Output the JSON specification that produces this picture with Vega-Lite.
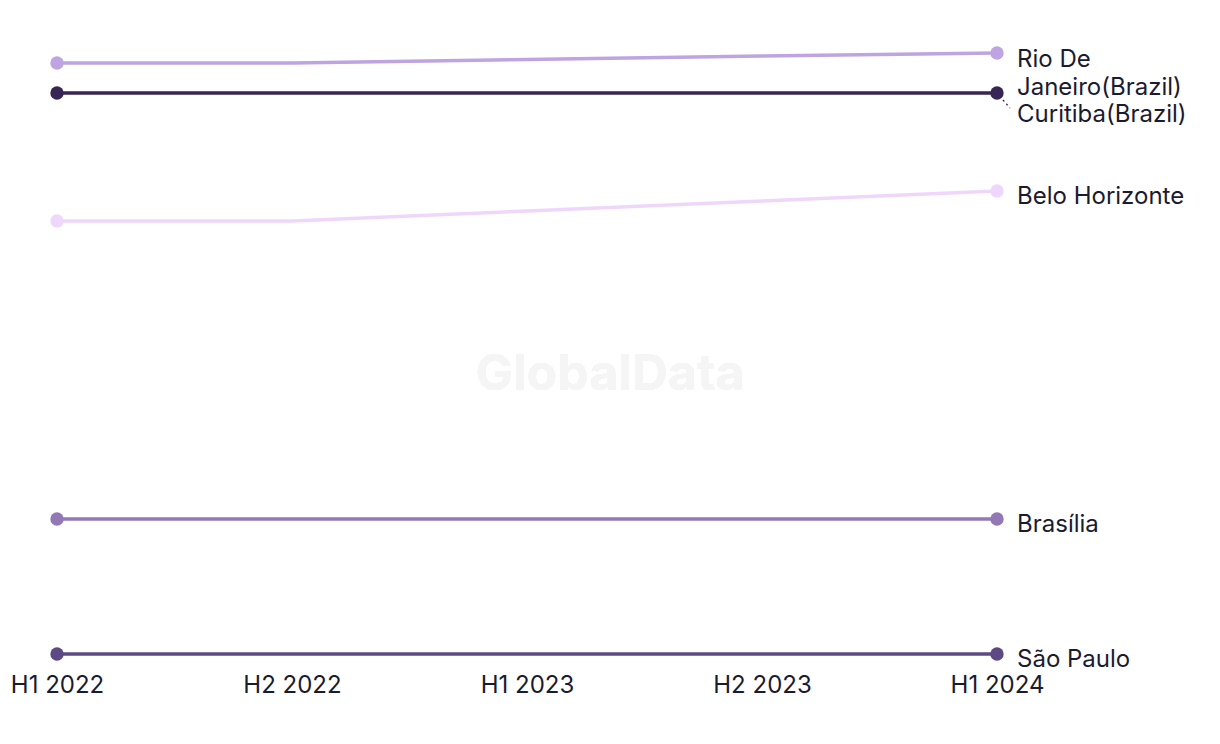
{
  "$schema": "https://vega.github.io/schema/vega-lite/v6.json",
  "width": 940,
  "height": 614,
  "autosize": "none",
  "padding": {"left": 57, "top": 40, "right": 223, "bottom": 90},
  "background": "white",
  "config": {"view": {"stroke": null}, "font": "Inter"},
  "data": {"values": [
    {"city": "Rio De Janeiro(Brazil)", "period": "H1 2022", "value": 591},
    {"city": "Rio De Janeiro(Brazil)", "period": "H2 2022", "value": 591},
    {"city": "Rio De Janeiro(Brazil)", "period": "H1 2023", "value": 594.5},
    {"city": "Rio De Janeiro(Brazil)", "period": "H2 2023", "value": 598},
    {"city": "Rio De Janeiro(Brazil)", "period": "H1 2024", "value": 601},
    {"city": "Curitiba(Brazil)", "period": "H1 2022", "value": 561},
    {"city": "Curitiba(Brazil)", "period": "H2 2022", "value": 561},
    {"city": "Curitiba(Brazil)", "period": "H1 2023", "value": 561},
    {"city": "Curitiba(Brazil)", "period": "H2 2023", "value": 561},
    {"city": "Curitiba(Brazil)", "period": "H1 2024", "value": 561},
    {"city": "Belo Horizonte", "period": "H1 2022", "value": 433},
    {"city": "Belo Horizonte", "period": "H2 2022", "value": 433},
    {"city": "Belo Horizonte", "period": "H1 2023", "value": 443},
    {"city": "Belo Horizonte", "period": "H2 2023", "value": 453},
    {"city": "Belo Horizonte", "period": "H1 2024", "value": 463},
    {"city": "Brasília", "period": "H1 2022", "value": 135},
    {"city": "Brasília", "period": "H2 2022", "value": 135},
    {"city": "Brasília", "period": "H1 2023", "value": 135},
    {"city": "Brasília", "period": "H2 2023", "value": 135},
    {"city": "Brasília", "period": "H1 2024", "value": 135},
    {"city": "São Paulo", "period": "H1 2022", "value": 0},
    {"city": "São Paulo", "period": "H2 2022", "value": 0},
    {"city": "São Paulo", "period": "H1 2023", "value": 0},
    {"city": "São Paulo", "period": "H2 2023", "value": 0},
    {"city": "São Paulo", "period": "H1 2024", "value": 0}
  ]},
  "encoding": {
    "x": {"field": "period", "type": "ordinal", "sort": ["H1 2022", "H2 2022", "H1 2023", "H2 2023", "H1 2024"],
      "scale": {"type": "point", "padding": 0},
      "axis": {"title": null, "domain": false, "ticks": false, "labelAngle": 0, "labelFontSize": 24, "labelColor": "#1b1b2f", "labelPadding": 19, "labelFont": "Inter", "grid": false}},
    "y": {"field": "value", "type": "quantitative", "scale": {"domain": [0, 614], "nice": false, "zero": false}, "axis": null},
    "color": {"field": "city", "type": "nominal", "legend": null,
      "scale": {"domain": ["Rio De Janeiro(Brazil)", "Curitiba(Brazil)", "Belo Horizonte", "Brasília", "São Paulo"],
        "range": ["#bea4e1", "#372555", "#efd7fc", "#9279b6", "#5d4983"]}}
  },
  "layer": [
    {"mark": {"type": "text", "text": "GlobalData", "fontSize": 50, "fontWeight": "bold", "color": "#f5f5f5", "font": "Inter", "dx": 83, "dy": 2},
     "encoding": {"x": {"datum": "H1 2023"}, "y": {"datum": 281}, "color": {"value": "#f5f5f5"}}},
    {"mark": {"type": "line", "strokeWidth": 3.5}, "encoding": {"detail": {"field": "city"}}},
    {"transform": [{"filter": "datum.period === 'H1 2024' && datum.city === 'Curitiba(Brazil)'"}],
     "mark": {"type": "rule", "color": "#372555", "strokeWidth": 1.2, "strokeDash": [2, 3], "xOffset": 6, "x2Offset": 13, "yOffset": 7, "y2Offset": 15},
     "encoding": {"x2": {"field": "period"}, "y2": {"field": "value"}, "color": {"value": "#372555"}}},
    {"transform": [{"filter": "datum.period === 'H1 2022' || datum.period === 'H1 2024'"}],
     "mark": {"type": "circle", "size": 180, "opacity": 1}},
    {"transform": [{"filter": "datum.period === 'H1 2024' && datum.city !== 'Rio De Janeiro(Brazil)' && datum.city !== 'Curitiba(Brazil)'"}],
     "mark": {"type": "text", "align": "left", "baseline": "middle", "dx": 20, "dy": 6, "fontSize": 24, "font": "Inter", "color": "#1b1b2f"},
     "encoding": {"text": {"field": "city"}, "color": {"value": "#1b1b2f"}}},
    {"transform": [{"filter": "datum.period === 'H1 2024' && datum.city === 'Curitiba(Brazil)'"}],
     "mark": {"type": "text", "align": "left", "baseline": "middle", "dx": 20, "dy": 22, "fontSize": 24, "font": "Inter", "color": "#1b1b2f"},
     "encoding": {"text": {"field": "city"}, "color": {"value": "#1b1b2f"}}},
    {"transform": [{"filter": "datum.period === 'H1 2024' && datum.city === 'Rio De Janeiro(Brazil)'"}],
     "mark": {"type": "text", "align": "left", "baseline": "middle", "dx": 20, "dy": 7, "fontSize": 24, "lineHeight": 28, "font": "Inter", "color": "#1b1b2f", "text": ["Rio De", "Janeiro(Brazil)"]},
     "encoding": {"color": {"value": "#1b1b2f"}}}
  ]
}
